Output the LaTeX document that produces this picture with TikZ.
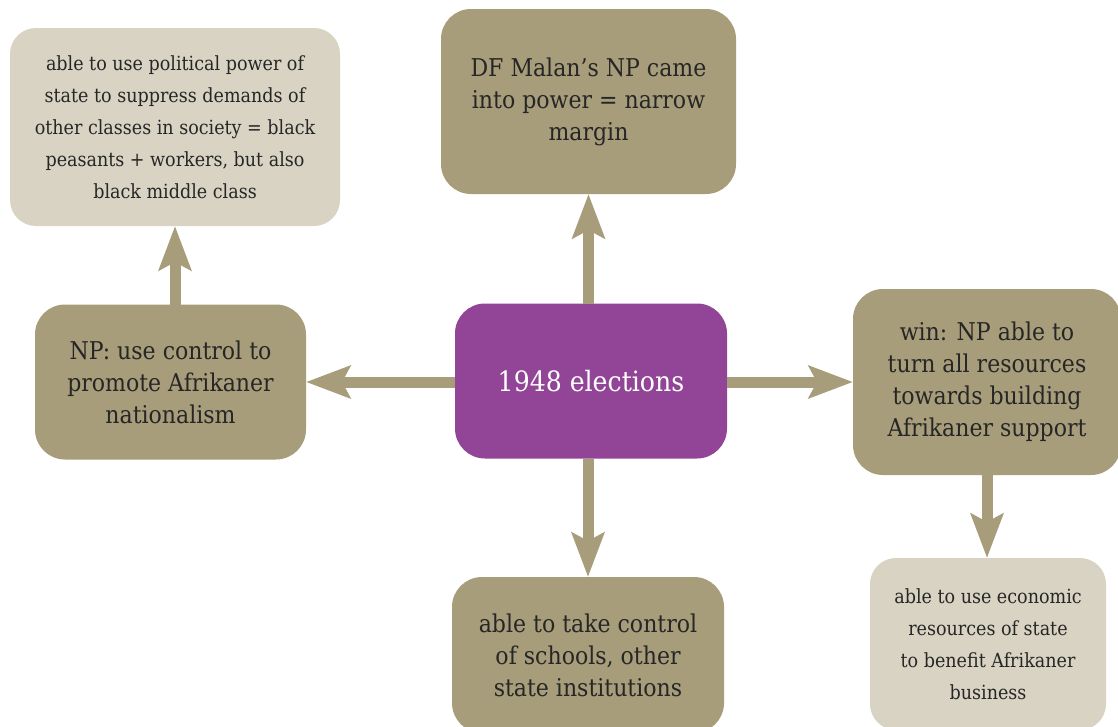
\documentclass[tikz,border=0pt]{standalone}
\usepackage{fontspec}
\setmainfont{DejaVu Serif Condensed}
\usetikzlibrary{arrows.meta}
\definecolor{boxdark}{HTML}{A89D7A}
\definecolor{boxlight}{HTML}{D8D3C3}
\definecolor{centrecol}{HTML}{924497}
\definecolor{ink}{HTML}{262626}
\begin{document}
\begin{tikzpicture}[x=1pt,y=-1pt,
  darkbox/.style={fill=boxdark, rounded corners=30pt, text=ink, align=center,
    font=\fontsize{24.5}{32}\selectfont, inner sep=0pt, outer sep=0pt},
  lightbox/.style={fill=boxlight, rounded corners=26pt, text=ink, align=center,
    font=\fontsize{19.5}{32}\selectfont, inner sep=0pt, outer sep=0pt},
  centrebox/.style={fill=centrecol, rounded corners=30pt, text=white, align=center,
    font=\fontsize{28}{34}\selectfont, inner sep=0pt, outer sep=0pt},
  conn/.style={draw=boxdark, line width=11pt,
    -{Stealth[length=44pt,width=32pt,inset=8pt]}}]
\clip (0,0) rectangle (1118,726);
\fill[white] (0,0) rectangle (1118,726);

\node[centrebox, minimum width=272pt, minimum height=155pt] (c) at (591,381) {1948 elections};
\node[darkbox, minimum width=295pt, minimum height=185pt] (t) at (588.5,101.5)
  {\raisebox{-4pt}{\parbox{290pt}{\centering DF Malan’s NP came\\into power = narrow\\margin}}};
\node[darkbox, minimum width=271pt, minimum height=155pt] (l) at (170.5,382)
  {NP: use control to\\promote Afrikaner\\nationalism};
\node[lightbox, minimum width=330pt, minimum height=198pt] (tl) at (175,127)
  {able to use political power of\\state to suppress demands of\\other classes in society = black\\peasants + workers, but also\\black middle class};
\node[darkbox, minimum width=268pt, minimum height=186pt] (r) at (987,382)
  {win: NP able to\\turn all resources\\towards building\\Afrikaner support};
\node[darkbox, minimum width=272pt, minimum height=156pt] (b) at (588,655)
  {able to take control\\of schools, other\\state institutions};
\node[lightbox, minimum width=236pt, minimum height=172pt] (br) at (988,644)
  {able to use economic\\resources of state\\to benefit Afrikaner\\business};

\draw[conn] (t.south |- c.north) -- (t.south);
\draw[conn] (c.west |- l.east) -- (l.east);
\draw[conn] (c.east |- r.west) -- (r.west);
\draw[conn] (b.north |- c.south) -- (b.north);
\draw[conn] (tl.south |- l.north) -- (tl.south);
\draw[conn] (r.south) -- (r.south |- br.north);
\end{tikzpicture}
\end{document}
